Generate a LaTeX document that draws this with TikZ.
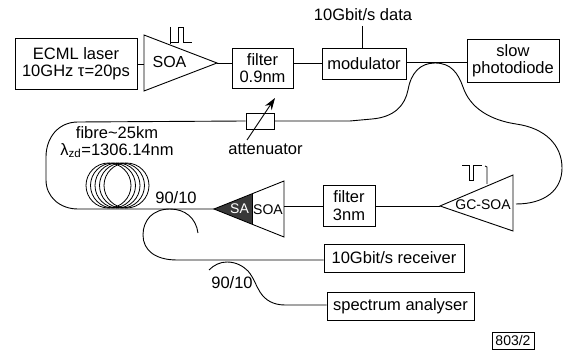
\documentclass[tikz,border=0pt]{standalone}
\usepackage{fontspec}
\setmainfont{Liberation Sans}
\usetikzlibrary{arrows.meta}
\begin{document}
\begin{tikzpicture}[
    x=1pt, y=-1pt,
    line width=0.9pt,
    box/.style={rectangle, draw, align=center, inner sep=0pt, font=\fontsize{16.5}{17.5}\selectfont},
    lbl/.style={inner sep=0pt, align=center, font=\fontsize{16.5}{17.5}\selectfont},
    amp/.style={inner sep=0pt, font=\fontsize{14}{16}\selectfont},
    fibre/.style={draw, line width=0.9pt}
]
    \useasboundingbox (0,0) rectangle (566,352);
    % boxes
    \node (laser) [box, minimum width=122pt, minimum height=51pt] at (76,63.5) {ECML laser\\10GHz τ=20ps};
    \node (filterA) [box, minimum width=61pt, minimum height=40pt] at (262.5,68) {filter\\0.9nm};
    \node (modulator) [box, minimum width=84pt, minimum height=31pt] at (364,63.5) {modulator};
    \node (diode) [box, minimum width=92pt, minimum height=43pt] at (513,60.5) {slow\\photodiode};
    \node (filterB) [box, minimum width=52pt, minimum height=41pt] at (349,205.5) {filter\\3nm};
    \node (receiver) [box, minimum width=140pt, minimum height=28pt] at (394,258) {10Gbit/s receiver};
    \node (analyser) [box, minimum width=147pt, minimum height=28pt] at (400.5,306) {spectrum analyser};
    \node (ref) [box, minimum width=42pt, minimum height=17pt, font=\fontsize{14}{16}\selectfont] at (513,340.5) {803/2};
    \node (atten) [rectangle, draw, minimum width=28pt, minimum height=16pt, inner sep=0pt] at (260,121) {};
    % amplifiers
    \coordinate (soaA) at (144,35);
    \coordinate (soaB) at (144,91);
    \coordinate (soaC) at (217,63);
    \draw (soaA) -- (soaC) -- (soaB) -- cycle;
    \node (soaAtext) [amp, font=\fontsize{16}{18}\selectfont] at (169.5,61.5) {SOA};
    \coordinate (gcA) at (513,175);
    \coordinate (gcB) at (513,231);
    \coordinate (gcC) at (440,206);
    \draw (gcA) -- (gcC) -- (gcB) -- cycle;
    \node (gctext) [amp] at (483,205) {GC-SOA};
    \coordinate (soaD) at (284,181);
    \coordinate (soaE) at (284,237);
    \coordinate (soaF) at (214,209);
    \coordinate (saA) at (252,194);
    \coordinate (saB) at (252,224);
    \fill [black!78] (soaF) -- (saA) -- (saB) -- cycle;
    \draw (soaF) -- (soaD) -- (soaE) -- cycle;
    \draw (saA) -- (saB);
    \node (satext) [amp, text=white] at (239.5,209) {SA};
    \node (soatext) [amp] at (268,209.5) {SOA};
    % fibre
    \coordinate (tapA) at (0,64);
    \coordinate (tapB) at (0,63);
    \coordinate (tapC) at (0,62);
    \coordinate (tapD) at (0,206);
    \coordinate (tapE) at (0,260);
    \coordinate (tapF) at (0,305);
    \draw [fibre] (laser.east |- tapA) -- (soaA |- tapA);
    \draw [fibre] (soaC) -- (filterA.west |- tapB);
    \draw [fibre] (filterA.east |- tapB) -- (modulator.west |- tapB);
    \draw [fibre] (modulator.east |- tapC) -- (diode.west |- tapC);
    \coordinate (dataEnd) at (362,26);
    \draw [fibre] (dataEnd) -- (dataEnd |- modulator.north);
    \node (data) [lbl] at (363,15) {10Gbit/s data};
    \draw [fibre] (atten.west) -- (78,122) .. controls (58,122) and (46,138) .. (46,157)
        -- (46,180) .. controls (46,197) and (60,209) .. (78,209) -- (soaF);
    \draw [fibre] (atten.east) -- (350,121) -- (372,119) .. controls (395,117) and (405,105) .. (408,90)
        .. controls (411,73) and (420,63) .. (435,63) .. controls (451,63) and (458,73) .. (463,87)
        .. controls (470,108) and (490,120) .. (516,124) .. controls (545,128) and (562,145) .. (562,168)
        .. controls (562,190) and (545,204) .. (516,204);
    \draw [fibre] (gcC) -- (filterB.east |- tapD);
    \draw [fibre] (filterB.west |- tapD) -- (soaD |- tapD);
    % fibre coil
    \foreach \c in {108.5,113,117.5,122,126.5} {
        \draw [line width=0.8pt] (\c,185.5) circle [radius=22.5];
    }
    % couplers
    \draw [fibre] (198,233) .. controls (196,218) and (185,209) .. (170,209)
        .. controls (153,209) and (143,220) .. (143,235) .. controls (143,250) and (155,260) .. (177,260)
        -- (receiver.west |- tapE);
    \draw [fibre] (209,270) .. controls (214,265) and (220,262) .. (227,262)
        .. controls (236,262) and (243,266) .. (248,271) .. controls (254,278) and (256,286) .. (260,292)
        .. controls (265,300) and (273,305) .. (285,305) -- (analyser.west |- tapF);
    % pulse shapes
    \draw [line width=0.8pt] (170,27) -- (170,44) (170,42) -- (178,42) -- (178,27) -- (183,27) -- (183,42) -- (192,42);
    \draw [line width=0.8pt] (462,165) -- (469,165) -- (469,180) -- (473,180) -- (473,165) -- (482,165);
    \draw [line width=0.8pt] (485,166) -- (487,167) -- (487,184);
    % attenuator arrow
    \draw [line width=0.9pt, -{Stealth[length=12pt, width=8pt]}] (247,140) -- (275,98);
    % labels
    \node (fibretext) [lbl] at (117,133) {fibre\textasciitilde25km};
    \node (zdtext) [lbl] at (117,150.5) {λ\textsubscript{zd}=1306.14nm};
    \node (atttext) [lbl] at (265.5,149) {attenuator};
    \node (ratioA) [lbl] at (176,198) {90/10};
    \node (ratioB) [lbl] at (232,283) {90/10};
\end{tikzpicture}
\end{document}
